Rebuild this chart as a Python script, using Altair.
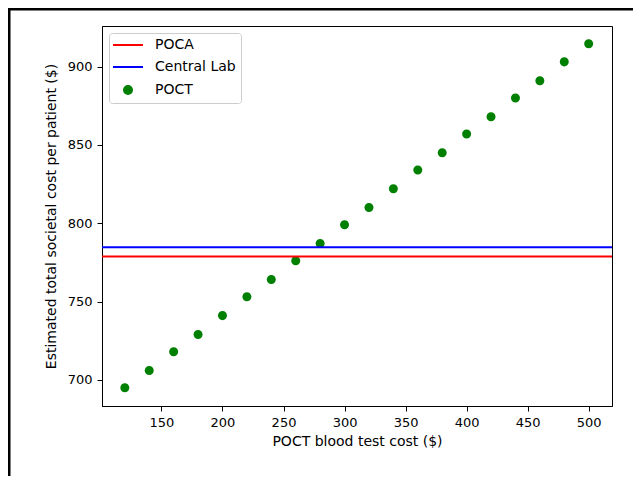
import altair as alt
import pandas as pd

# ---- data ----
poct_cost = [120, 140, 160, 180, 200, 220, 240, 260, 280, 300,
             320, 340, 360, 380, 400, 420, 440, 460, 480, 500]
poct_total = [695, 706, 718, 729, 741, 753, 764, 776, 787, 799,
              810, 822, 834, 845, 857, 868, 880, 891, 903, 914.5]
line_names = ["POCA", "Central Lab"]
line_totals = [778.7, 784.7]
series_names = ["POCA", "Central Lab", "POCT"]
series_colors = ["#ff0000", "#0000ff", "#008000"]
x_ticks = [150, 200, 250, 300, 350, 400, 450, 500]
y_ticks = [700, 750, 800, 850, 900]

points_df = pd.DataFrame({"cost": poct_cost, "total": poct_total,
                          "series": ["POCT"] * len(poct_cost)})
lines_df = pd.DataFrame({"total": line_totals, "series": line_names})
frame_df = pd.DataFrame({"k": [0]})

FONT = "DejaVu Sans"
LINE_SYMBOL = "M-3,0H3"
DOT_SYMBOL = "M-0.8,0A0.8,0.8 0 1,0 0.8,0A0.8,0.8 0 1,0 -0.8,0Z"

x_scale = alt.Scale(domain=[101.3, 519.1], nice=False, zero=False)
y_scale = alt.Scale(domain=[683.3, 925.9], nice=False, zero=False)
color_scale = alt.Scale(domain=series_names, range=series_colors)
shape_scale = alt.Scale(domain=series_names,
                        range=[LINE_SYMBOL, LINE_SYMBOL, DOT_SYMBOL])

legend = alt.Legend(
    title=None, orient="top-left", offset=7, padding=5,
    strokeColor="#cccccc", fillColor="white", cornerRadius=3,
    labelFont=FONT, labelFontSize=14, labelColor="black",
    symbolSize=100, symbolStrokeWidth=2, rowPadding=8,
    symbolOffset=7, labelOffset=20,
)

x_axis = alt.Axis(values=x_ticks, title="POCT blood test cost ($)", grid=False,
                  tickSize=5, labelPadding=5, titlePadding=5)
y_axis = alt.Axis(values=y_ticks, title="Estimated total societal cost per patient ($)",
                  grid=False, tickSize=5, labelPadding=5, titlePadding=9)

rules = alt.Chart(lines_df).mark_rule(strokeWidth=2).encode(
    y=alt.Y("total:Q", scale=y_scale, axis=y_axis),
    stroke=alt.Stroke("series:N", scale=color_scale, legend=legend),
)

points = alt.Chart(points_df).mark_point(filled=True, opacity=1, size=127).encode(
    x=alt.X("cost:Q", scale=x_scale, axis=x_axis),
    y=alt.Y("total:Q", scale=y_scale, axis=y_axis),
    fill=alt.Fill("series:N", scale=color_scale, legend=legend),
    shape=alt.Shape("series:N", scale=shape_scale, legend=legend),
)

frame_left = alt.Chart(frame_df).mark_rule(color="black", strokeWidth=2.5).encode(
    x=alt.value(-92.75), y=alt.value(-18), y2=alt.value(470))
frame_top = alt.Chart(frame_df).mark_rule(color="black", strokeWidth=2.5).encode(
    y=alt.value(-16.75), x=alt.value(-94), x2=alt.value(560))

chart = alt.layer(points, rules, frame_left, frame_top).properties(
    width=510, height=380,
    autosize=alt.AutoSizeParams(type="none"),
    padding={"left": 94, "top": 18, "right": 21, "bottom": 70},
).configure_view(
    stroke="black", strokeWidth=1
).configure_axis(
    labelFont=FONT, titleFont=FONT, labelFontSize=13, titleFontSize=14,
    labelColor="black", titleColor="black", titleFontWeight="normal",
    domainColor="black", tickColor="black", domainWidth=1, tickWidth=1,
).configure_legend(
    symbolFillColor="white", symbolStrokeColor="black",
)

chart.save("out.html", embed_options={"renderer": "svg", "actions": False})
